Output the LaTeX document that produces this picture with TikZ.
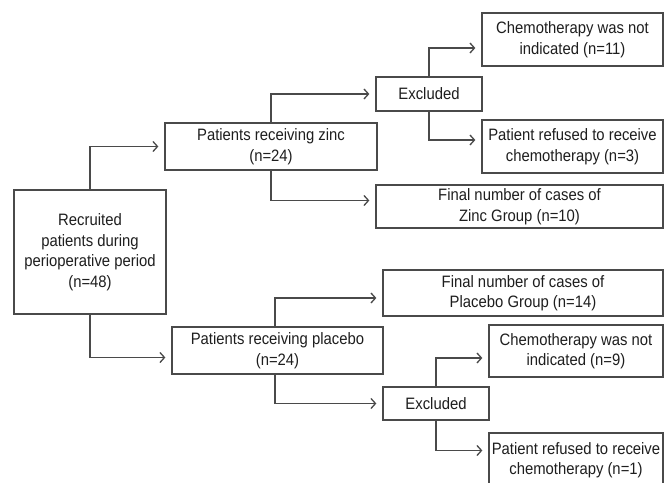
\documentclass[tikz,border=0pt]{standalone}
\usepackage{fontspec}
\setmainfont[FakeStretch=0.9]{Liberation Sans}
\usetikzlibrary{arrows.meta}
\usetikzlibrary{positioning}
\definecolor{linegray}{HTML}{4a4a4a}
\definecolor{textgray}{HTML}{1e1e1e}
\tikzset{block/.style={draw=linegray, line width=1.3pt, text centered, align=center, fill=white, text=textgray, inner sep=0pt, font=\fontsize{16.5}{20.5}\selectfont}}
\tikzset{connect/.style={draw=linegray, line width=1.3pt, shorten >=6pt, >={Straight Barb[length=4.5pt,width=10pt]}}}
\begin{document}
\begin{tikzpicture}[x=1pt,y=-1pt]
\useasboundingbox (0,0) rectangle (664,482);

\node[block,minimum height=124pt,minimum width=152pt] (recruited) at (90,252) {Recruited\\patients during\\perioperative period\\(n=48)};

%zinc arm
\node[block,minimum height=47pt,minimum width=212pt] (zinc) at (271,146.5) {Patients receiving zinc\\(n=24)};
\node[block,minimum height=34pt,minimum width=106pt] (exclzinc) at (429,94) {Excluded};
\node[block,minimum height=53pt,minimum width=181pt] (notzinc) at (572.5,39.5) {Chemotherapy was not\\indicated (n=11)};
\node[block,minimum height=53pt,minimum width=181pt] (refzinc) at (572.5,146.5) {Patient refused to receive\\chemotherapy (n=3)};
\node[block,minimum height=43pt,minimum width=287pt] (finalzinc) at (519.5,206.5) {Final number of cases of\\Zinc Group (n=10)};

%placebo arm
\node[block,minimum height=47pt,minimum width=211pt] (placebo) at (277.5,350.5) {Patients receiving placebo\\(n=24)};
\node[block,minimum height=46pt,minimum width=280pt] (finalplacebo) at (523,293) {Final number of cases of\\Placebo Group (n=14)};
\node[block,minimum height=33pt,minimum width=106pt] (exclplacebo) at (436,403.5) {Excluded};
\node[block,minimum height=52pt,minimum width=174pt] (notplacebo) at (576,351) {Chemotherapy was not\\indicated (n=9)};
\node[block,minimum height=54pt,minimum width=174pt] (refplacebo) at (576,460) {Patient refused to receive\\chemotherapy (n=1)};

%split
\path[connect,->] (recruited.north) |- (zinc.west);
\path[connect,->] (recruited.south) |- ([yshift=-7pt]placebo.west);

%zinc connections
\path[connect,->] (zinc.north) |- (exclzinc.west);
\path[connect,->] (zinc.south) |- ([yshift=6pt]finalzinc.west);
\path[connect,->] (exclzinc.north) |- ([yshift=-8.5pt]notzinc.west);
\path[connect,->] (exclzinc.south) |- ([yshift=6.5pt]refzinc.west);

%placebo connections
\path[connect,->] ([xshift=-2.5pt]placebo.north) |- ([yshift=-5pt]finalplacebo.west);
\path[connect,->] ([xshift=-2.5pt]placebo.south) |- (exclplacebo.west);
\path[connect,->] (exclplacebo.north) |- ([yshift=-7pt]notplacebo.west);
\path[connect,->] (exclplacebo.south) |- ([yshift=9.5pt]refplacebo.west);

\end{tikzpicture}
\end{document}
